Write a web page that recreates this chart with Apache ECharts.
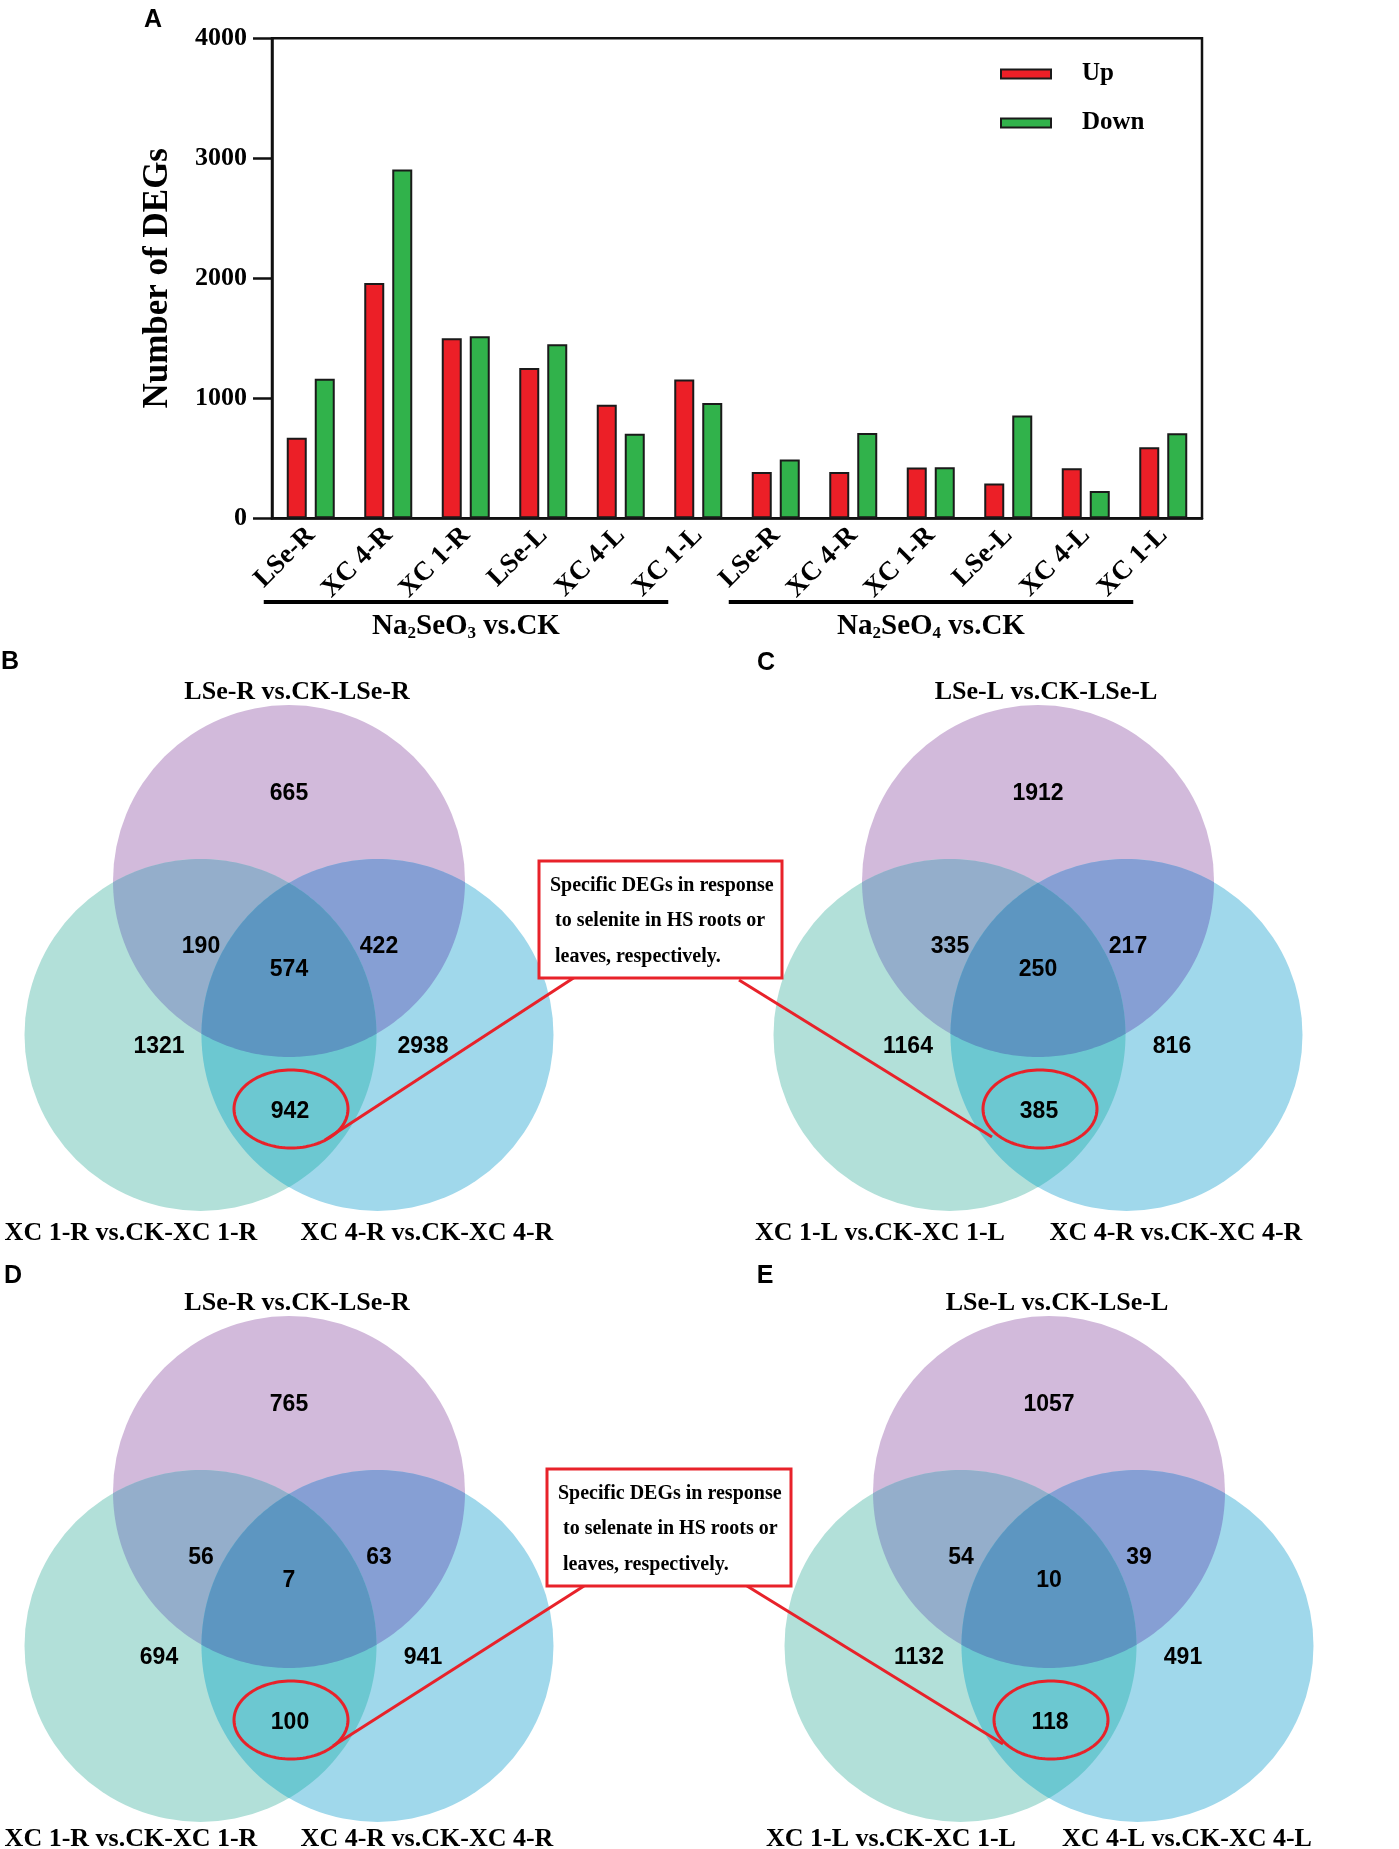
<!DOCTYPE html>
<html>
<head>
<meta charset="utf-8">
<script src="https://cdn.jsdelivr.net/npm/echarts@6/dist/echarts.min.js"></script>
<style>
html,body{margin:0;padding:0;background:#ffffff;}
#chart{width:1399px;height:1849px;}
</style>
</head>
<body>
<div id="chart"></div>
<script>
// ---------------- DATA ----------------
const categories = ['LSe-R','XC 4-R','XC 1-R','LSe-L','XC 4-L','XC 1-L','LSe-R','XC 4-R','XC 1-R','LSe-L','XC 4-L','XC 1-L'];
const upValues   = [672, 1960, 1500, 1253, 947, 1156, 386, 386, 424, 290, 417, 592];
const downValues = [1162, 2907, 1517, 1450, 705, 960, 490, 711, 426, 856, 228, 708];
const yTicks = [0, 1000, 2000, 3000, 4000];
const seriesNames = ['Up', 'Down'];
const yAxisTitle = 'Number of DEGs';
const groupRanges = [[0, 5], [6, 11]];
const groupLabels = [['Na', '2', 'SeO', '3', ' vs.CK'], ['Na', '2', 'SeO', '4', ' vs.CK']];

const vennLetters = ['B', 'C', 'D', 'E'];
const vennTitles = ['LSe-R vs.CK-LSe-R', 'LSe-L vs.CK-LSe-L', 'LSe-R vs.CK-LSe-R', 'LSe-L vs.CK-LSe-L'];
const vennLeftLabels = ['XC 1-R vs.CK-XC 1-R', 'XC 1-L vs.CK-XC 1-L', 'XC 1-R vs.CK-XC 1-R', 'XC 1-L vs.CK-XC 1-L'];
const vennRightLabels = ['XC 4-R vs.CK-XC 4-R', 'XC 4-R vs.CK-XC 4-R', 'XC 4-R vs.CK-XC 4-R', 'XC 4-L vs.CK-XC 4-L'];
// region order: top only, top∩left, all three, top∩right, left only, right only, left∩right
const vennCountsB = [665, 190, 574, 422, 1321, 2938, 942];
const vennCountsC = [1912, 335, 250, 217, 1164, 816, 385];
const vennCountsD = [765, 56, 7, 63, 694, 941, 100];
const vennCountsE = [1057, 54, 10, 39, 1132, 491, 118];
const vennCounts = [vennCountsB, vennCountsC, vennCountsD, vennCountsE];
const calloutSelenite = ['Specific DEGs in response', 'to selenite in HS roots or', 'leaves, respectively.'];
const calloutSelenate = ['Specific DEGs in response', 'to selenate in HS roots or', 'leaves, respectively.'];

// ---------------- STYLE / LAYOUT ----------------
const SERIF = "'Liberation Serif','Times New Roman',serif";
const SANS = "'Liberation Sans',Arial,sans-serif";
const RED = '#e8222a';
const vennColors = { P: '#d2badb', G: '#b2e0d9', B: '#a0d8eb', PG: '#94aecb', PB: '#869fd4', GB: '#6cc8d1', PGB: '#5d96c1' };
const vennR = 176;
const vennTopCenters = [[289, 881], [1038, 881], [289, 1492], [1049, 1492]];
const vennLabelDy = [352, 352, 347, 347];
const vennLetterPos = [[10, 662], [766, 663], [13, 1276], [765, 1276]];
const regionOffsets = [[0, -87], [-88, 66], [0, 89], [90, 66], [-130, 166], [134, 166], [1, 231]];
const calloutBoxes = [[539, 861, 243, 117], [547, 1469, 244, 117]];
const calloutLines = [
  [[575, 977, 325, 1140], [739, 980, 992, 1137]],
  [[584, 1586, 333, 1746], [747, 1586, 1003, 1744]]
];

const chart = echarts.init(document.getElementById('chart'), null, { renderer: 'canvas' });

const option = {
  backgroundColor: '#ffffff',
  animation: false,
  grid: {
    left: 272, top: 38.3, width: 930, height: 480,
    show: true, borderColor: '#111', borderWidth: 2.5, backgroundColor: 'transparent'
  },
  legend: {
    orient: 'vertical', left: 995, top: 56, itemWidth: 50, itemHeight: 9, itemGap: 23,
    icon: 'rect', selectedMode: false, data: seriesNames,
    textStyle: { fontFamily: SERIF, fontWeight: 'bold', fontSize: 25, color: '#000', lineHeight: 26, padding: [0, 0, 0, 26] }
  },
  xAxis: {
    type: 'category', data: categories, boundaryGap: true,
    axisLine: { show: true, lineStyle: { color: '#111', width: 2.5 } },
    axisTick: { show: false },
    axisLabel: { interval: 0, rotate: 45, margin: 13, color: '#000', fontFamily: SERIF, fontWeight: 'bold', fontSize: 27 }
  },
  yAxis: {
    type: 'value', min: yTicks[0], max: yTicks[yTicks.length - 1], interval: 1000,
    name: yAxisTitle, nameLocation: 'middle', nameGap: 97,
    nameTextStyle: { fontFamily: SERIF, fontWeight: 'bold', fontSize: 35, color: '#000' },
    axisLine: { show: true, lineStyle: { color: '#111', width: 2.5 } },
    axisTick: { show: true, inside: false, length: 19, lineStyle: { color: '#111', width: 2.5 } },
    axisLabel: { margin: 25, color: '#000', fontFamily: SERIF, fontWeight: 'bold', fontSize: 26,
      formatter: function (v) { return String(v); } },
    splitLine: { show: false }
  },
  series: [
    { name: seriesNames[0], type: 'bar', data: upValues, barWidth: 20, barGap: '40%',
      itemStyle: { color: '#ec1f27', borderColor: '#1a1a1a', borderWidth: 2 } },
    { name: seriesNames[1], type: 'bar', data: downValues, barWidth: 20, barGap: '40%',
      itemStyle: { color: '#31b24b', borderColor: '#1a1a1a', borderWidth: 2 } }
  ]
};
chart.setOption(option);

// ---------------- annotations ----------------
const g = [];
function txt(x, y, text, font, align, vAlign, z) {
  g.push({ type: 'text', z: z || 10, style: {
    text: text, x: x, y: y, font: font, fill: '#000',
    align: align || 'center', textAlign: align || 'center',
    verticalAlign: vAlign || 'middle', textVerticalAlign: vAlign || 'middle'
  } });
}

// panel letter A
txt(153, 20, 'A', 'bold 25px ' + SANS);

// group brackets under the category axis
groupRanges.forEach(function (rg, i) {
  const x0 = chart.convertToPixel({ xAxisIndex: 0 }, rg[0]) - 47;
  const x1 = chart.convertToPixel({ xAxisIndex: 0 }, rg[1]) - 30;
  g.push({ type: 'line', z: 10, shape: { x1: x0, y1: 602, x2: x1, y2: 602 }, style: { stroke: '#000', lineWidth: 4 } });
  const p = groupLabels[i];
  g.push({ type: 'text', z: 10, style: {
    text: '{a|' + p[0] + '}{b|' + p[1] + '}{a|' + p[2] + '}{b|' + p[3] + '}{a|' + p[4] + '}',
    x: (x0 + x1) / 2, y: 627, align: 'center', textAlign: 'center', verticalAlign: 'middle', textVerticalAlign: 'middle',
    rich: {
      a: { fontFamily: SERIF, fontWeight: 'bold', fontSize: 29, fill: '#000', lineHeight: 30 },
      b: { fontFamily: SERIF, fontWeight: 'bold', fontSize: 17, fill: '#000', lineHeight: 30, verticalAlign: 'bottom' }
    }
  } });
});

// ---------- Venn geometry (polygons sampled along arcs) ----------
function inter(c1, c2, r) {
  const dx = c2[0] - c1[0], dy = c2[1] - c1[1];
  const d = Math.hypot(dx, dy);
  const h = Math.sqrt(r * r - (d / 2) * (d / 2));
  const mx = c1[0] + dx / 2, my = c1[1] + dy / 2;
  const nx = -dy / d, ny = dx / d;
  return [[mx + h * nx, my + h * ny], [mx - h * nx, my - h * ny]];
}
// points along the minor arc of circle c (radius r) from p1 to p2 (p1 excluded)
function arcPts(c, p1, p2, r) {
  const a1 = Math.atan2(p1[1] - c[1], p1[0] - c[0]);
  let a2 = Math.atan2(p2[1] - c[1], p2[0] - c[0]);
  let d = a2 - a1;
  while (d > Math.PI) d -= 2 * Math.PI;
  while (d <= -Math.PI) d += 2 * Math.PI;
  const n = 72, out = [];
  for (let k = 1; k <= n; k++) {
    const a = a1 + d * k / n;
    out.push([c[0] + r * Math.cos(a), c[1] + r * Math.sin(a)]);
  }
  return out;
}
function lensPoly(c1, c2, r) {
  const pts = inter(c1, c2, r);
  return arcPts(c1, pts[0], pts[1], r).concat(arcPts(c2, pts[1], pts[0], r));
}
function closer(pts, c) {
  const d0 = Math.hypot(pts[0][0] - c[0], pts[0][1] - c[1]);
  const d1 = Math.hypot(pts[1][0] - c[0], pts[1][1] - c[1]);
  return d0 < d1 ? pts[0] : pts[1];
}
function triplePoly(P, G, B, r) {
  const qPG = closer(inter(P, G, r), B);
  const qPB = closer(inter(P, B, r), G);
  const qGB = closer(inter(G, B, r), P);
  return arcPts(P, qPG, qPB, r).concat(arcPts(B, qPB, qGB, r), arcPts(G, qGB, qPG, r));
}

vennTopCenters.forEach(function (tc, i) {
  const P = tc;
  const G = [tc[0] - 88.5, tc[1] + 154];
  const B = [tc[0] + 88.5, tc[1] + 154];
  const r = vennR;
  [[P, vennColors.P], [G, vennColors.G], [B, vennColors.B]].forEach(function (c) {
    g.push({ type: 'circle', z: 1, shape: { cx: c[0][0], cy: c[0][1], r: r }, style: { fill: c[1] } });
  });
  g.push({ type: 'polygon', z: 2, shape: { points: lensPoly(P, G, r) }, style: { fill: vennColors.PG } });
  g.push({ type: 'polygon', z: 2, shape: { points: lensPoly(P, B, r) }, style: { fill: vennColors.PB } });
  g.push({ type: 'polygon', z: 2, shape: { points: lensPoly(G, B, r) }, style: { fill: vennColors.GB } });
  g.push({ type: 'polygon', z: 3, shape: { points: triplePoly(P, G, B, r) }, style: { fill: vennColors.PGB } });

  // counts
  vennCounts[i].forEach(function (v, k) {
    txt(tc[0] + regionOffsets[k][0], tc[1] + regionOffsets[k][1], String(v), 'bold 23px ' + SANS);
  });
  // highlight ellipse around left∩right-only region
  const ex = tc[0] + 2, ey = tc[1] + 228, erx = 57, ery = 39, ep = [];
  for (let k = 0; k < 120; k++) {
    const a = 2 * Math.PI * k / 120;
    ep.push([ex + erx * Math.cos(a), ey + ery * Math.sin(a)]);
  }
  g.push({ type: 'polygon', z: 11, shape: { points: ep }, style: { fill: 'none', stroke: RED, lineWidth: 3 } });
  // titles / set labels
  txt(tc[0] + 8, tc[1] - 189, vennTitles[i], 'bold 26px ' + SERIF);
  txt(tc[0] - 158, tc[1] + vennLabelDy[i], vennLeftLabels[i], 'bold 26px ' + SERIF);
  txt(tc[0] + 138, tc[1] + vennLabelDy[i], vennRightLabels[i], 'bold 26px ' + SERIF);
  // panel letter
  txt(vennLetterPos[i][0], vennLetterPos[i][1], vennLetters[i], 'bold 25px ' + SANS);
});

// callout boxes and connector lines
calloutBoxes.forEach(function (bx, i) {
  const lines = i === 0 ? calloutSelenite : calloutSelenate;
  calloutLines[i].forEach(function (l) {
    g.push({ type: 'line', z: 12, shape: { x1: l[0], y1: l[1], x2: l[2], y2: l[3] }, style: { stroke: RED, lineWidth: 3 } });
  });
  g.push({ type: 'rect', z: 12, shape: { x: bx[0], y: bx[1], width: bx[2], height: bx[3] },
    style: { fill: '#ffffff', stroke: RED, lineWidth: 3 } });
  const dys = [24.5, 59.5, 95.5];
  lines.forEach(function (t, k) {
    txt(bx[0] + (k === 0 ? 11 : 16), bx[1] + dys[k], t, 'bold 20px ' + SERIF, 'left', 'middle', 13);
  });
});

chart.setOption({ graphic: { elements: g } });
</script>
</body>
</html>
